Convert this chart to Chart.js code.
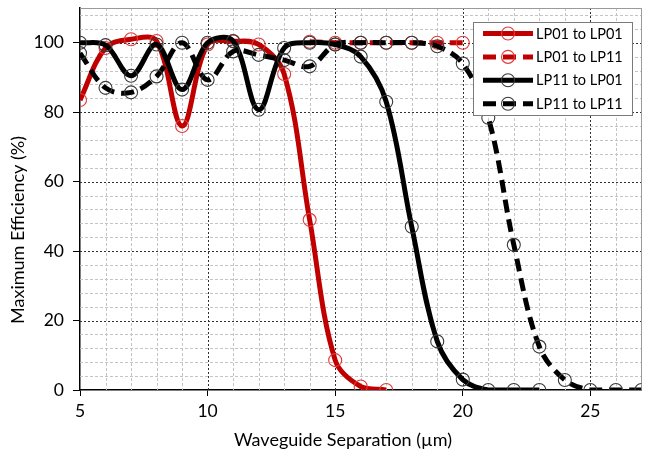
<!DOCTYPE html>
<html>
<head>
<meta charset="utf-8">
<script src="https://cdn.jsdelivr.net/npm/chart.js@4/dist/chart.umd.min.js"></script>
<style>
  html, body { margin: 0; padding: 0; background: #fff; }
  #c { display: block; }
</style>
</head>
<body>
<canvas id="c" width="649" height="459"></canvas>
<script>
// ---- Data ----
const seriesLabels = ["LP01 to LP01", "LP01 to LP11", "LP11 to LP01", "LP11 to LP11"];

const sepLP01toLP01 = [5, 6, 7, 8, 9, 10, 11, 12, 13, 14, 15, 16, 17];
const effLP01toLP01 = [83.5, 98.5, 101, 100.5, 76, 99.5, 100.4, 99.5, 91, 49, 8.6, 1, 0];

const sepLP01toLP11 = [14, 15, 16, 17, 18, 19, 20];
const effLP01toLP11 = [100.3, 100, 100, 100, 100, 100, 100];

const sepLP11toLP01 = [5, 6, 7, 8, 9, 10, 11, 12, 13, 14, 15, 16, 17, 18, 19, 20, 21, 22, 23];
const effLP11toLP01 = [100, 99.3, 90.5, 99.5, 86.5, 100, 100.5, 80.7, 98.5, 100, 99.5, 96, 83, 47, 14, 3, 0, 0, 0];

const sepLP11toLP11 = [5, 6, 7, 8, 9, 10, 11, 12, 13, 14, 15, 16, 17, 18, 19, 20, 21, 22, 23, 24, 25, 26, 27];
const effLP11toLP11 = [97, 87, 85.7, 90.3, 100, 89.3, 97.5, 96.5, 95, 93.2, 99.5, 100, 100, 100, 99, 94, 78.4, 41.8, 12.5, 2.9, 0, 0, 0];

const xTickValues = [5, 10, 15, 20, 25];
const yTickValues = [0, 20, 40, 60, 80, 100];
const xTitle = "Waveguide Separation (\u00b5m)";
const yTitle = "Maximum Efficiency (%)";

// ---- helpers ----
function pts(xs, ys) { return xs.map((x, i) => ({ x: x, y: ys[i] })); }

const FONT = "Lato, 'Open Sans', sans-serif";
const RED = "#c00000";
const RED_PT = "#e03a3a";
const BLK = "#000000";
const BLK_PT = "#3a3a3a";
const DASH = [13, 7];

const datasets = [
  { label: seriesLabels[0], data: pts(sepLP01toLP01, effLP01toLP01), borderColor: RED, borderWidth: 5,
    pointBorderColor: RED_PT, borderDash: [], order: 3 },
  { label: seriesLabels[1], data: pts(sepLP01toLP11, effLP01toLP11), borderColor: RED, borderWidth: 5,
    pointBorderColor: RED_PT, borderDash: DASH, order: 2 },
  { label: seriesLabels[2], data: pts(sepLP11toLP01, effLP11toLP01), borderColor: BLK, borderWidth: 5,
    pointBorderColor: BLK_PT, borderDash: [], order: 1 },
  { label: seriesLabels[3], data: pts(sepLP11toLP11, effLP11toLP11), borderColor: BLK, borderWidth: 5,
    pointBorderColor: BLK_PT, borderDash: DASH, order: 0 }
].map(d => Object.assign({
  fill: false, tension: 0.36, pointRadius: 6.5, pointBorderWidth: 1.1,
  pointBackgroundColor: "rgba(0,0,0,0)", pointStyle: "circle", borderCapStyle: "butt"
}, d));

// grid plugin: minor (light dashed) and major (dark dotted) lines, plus frame
const gridPlugin = {
  id: "excelGrid",
  beforeDatasetsDraw(chart) {
    const { ctx, chartArea: a, scales: { x, y } } = chart;
    ctx.save();
    ctx.lineWidth = 1;
    // minor lines
    ctx.strokeStyle = "#c4c4c4";
    ctx.setLineDash([3, 2]);
    for (let v = x.min; v <= x.max; v += 1) {
      if (v % 5 === 0) continue;
      const px = Math.round(x.getPixelForValue(v)) + 0.5;
      ctx.beginPath(); ctx.moveTo(px, a.top); ctx.lineTo(px, a.bottom); ctx.stroke();
    }
    for (let v = y.min; v <= y.max; v += 4) {
      if (v % 20 === 0) continue;
      const py = Math.round(y.getPixelForValue(v)) + 0.5;
      ctx.beginPath(); ctx.moveTo(a.left, py); ctx.lineTo(a.right, py); ctx.stroke();
    }
    // major lines
    ctx.strokeStyle = "#303030";
    ctx.setLineDash([2, 2]);
    xTickValues.forEach(v => {
      if (v === x.min) return;
      const px = Math.round(x.getPixelForValue(v)) + 0.5;
      ctx.beginPath(); ctx.moveTo(px, a.top); ctx.lineTo(px, a.bottom); ctx.stroke();
    });
    yTickValues.forEach(v => {
      if (v === y.min) return;
      const py = Math.round(y.getPixelForValue(v)) + 0.5;
      ctx.beginPath(); ctx.moveTo(a.left, py); ctx.lineTo(a.right, py); ctx.stroke();
    });
    // frame (top and right)
    ctx.setLineDash([]);
    ctx.strokeStyle = "#9a9a9a";
    ctx.beginPath();
    ctx.moveTo(a.left, Math.round(a.top) + 0.5); ctx.lineTo(Math.round(a.right) + 0.5, Math.round(a.top) + 0.5);
    ctx.lineTo(Math.round(a.right) + 0.5, a.bottom);
    ctx.stroke();
    ctx.restore();
  },
  afterDraw(chart) {
    const { ctx } = chart;
    ctx.save();
    // legend
    const bx = 473.5, by = 22.5, bw = 159, bh = 93;
    ctx.fillStyle = "#ffffff";
    ctx.fillRect(bx, by, bw, bh);
    ctx.strokeStyle = "#7a7a7a";
    ctx.lineWidth = 1;
    ctx.setLineDash([]);
    ctx.strokeRect(bx, by, bw, bh);
    chart.data.datasets.forEach((ds, i) => {
      const ry = 33.5 + i * 23.4;
      ctx.save();
      ctx.strokeStyle = ds.borderColor;
      ctx.lineWidth = ds.borderWidth;
      ctx.setLineDash(ds.borderDash || []);
      ctx.beginPath(); ctx.moveTo(483, ry); ctx.lineTo(533, ry); ctx.stroke();
      ctx.setLineDash([]);
      ctx.lineWidth = 1.1;
      ctx.strokeStyle = ds.pointBorderColor;
      ctx.beginPath(); ctx.arc(508, ry, 6.5, 0, Math.PI * 2); ctx.stroke();
      ctx.restore();
      ctx.fillStyle = "#000";
      ctx.font = "14.5px " + FONT;
      ctx.textBaseline = "middle";
      ctx.textAlign = "left";
      ctx.fillText(ds.label, 536, ry + 0.5);
    });
    // axis titles
    ctx.fillStyle = "#000";
    ctx.font = "18px " + FONT;
    ctx.textAlign = "center";
    ctx.textBaseline = "middle";
    ctx.fillText(xTitle, 343, 440);
    ctx.translate(18, 230);
    ctx.rotate(-Math.PI / 2);
    ctx.fillText(yTitle, 0, 0);
    ctx.restore();
  }
};

new Chart(document.getElementById("c"), {
  type: "line",
  data: { datasets: datasets },
  options: {
    responsive: false,
    devicePixelRatio: 1,
    animation: false,
    layout: { padding: { top: 8, right: 4, left: 0, bottom: 0 } },
    plugins: { legend: { display: false }, tooltip: { enabled: false }, title: { display: false } },
    scales: {
      x: {
        type: "linear", min: 5, max: 27,
        afterBuildTicks: s => { s.ticks = xTickValues.map(v => ({ value: v })); },
        afterFit: s => { s.height = 69; s.paddingLeft = 0; s.paddingRight = 0; },
        ticks: { color: "#000", font: { family: FONT, size: 17.5 }, padding: 5, maxRotation: 0, autoSkip: false },
        grid: { drawOnChartArea: false, drawTicks: true, tickLength: 6, color: "#000", lineWidth: 1 },
        border: { display: true, color: "#000", width: 1.5 }
      },
      y: {
        type: "linear", min: 0, max: 110,
        afterBuildTicks: s => { s.ticks = yTickValues.map(v => ({ value: v })); },
        afterFit: s => { s.width = 80; s.paddingTop = 0; s.paddingBottom = 0; },
        ticks: { color: "#000", font: { family: FONT, size: 17.5 }, padding: 9, autoSkip: false },
        grid: { drawOnChartArea: false, drawTicks: true, tickLength: 7, color: "#000", lineWidth: 1 },
        border: { display: true, color: "#000", width: 1.5 }
      }
    }
  },
  plugins: [gridPlugin]
});
</script>
</body>
</html>
